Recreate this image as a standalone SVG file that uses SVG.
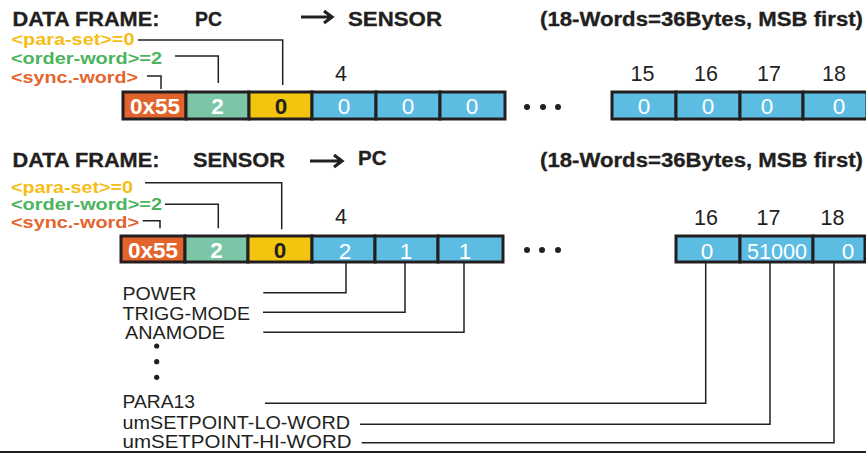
<svg xmlns="http://www.w3.org/2000/svg" width="866" height="453" viewBox="0 0 866 453">
<style>
text{font-family:"Liberation Sans",Arial,sans-serif}
.h{font-size:19.5px;font-weight:bold;fill:#231f20;stroke:#231f20;stroke-width:0.3}
.lab{font-size:17px;font-weight:bold}
.y{fill:#f6bd16}.g{fill:#4cb45c}.o{fill:#e5642d}
.num{font-size:21.5px;fill:#231f20}
.cell{stroke:#231f20;stroke-width:3}
.co{fill:#e2642c}.cg{fill:#7cc6a7}.cy{fill:#f4c50f}.cb{fill:#5cbce2}
.bt{font-size:22.5px;font-weight:bold;text-anchor:middle}
.wt{font-size:22.5px;fill:#fff;text-anchor:middle}
.pl{font-size:18px;fill:#231f20}
.ln{fill:none;stroke:#231f20;stroke-width:1.5}
.arr{fill:none;stroke:#231f20;stroke-width:3.2}
</style>

<g id="header-top">
<text class="h" x="12.5" y="26" textLength="147" lengthAdjust="spacingAndGlyphs">DATA FRAME:</text>
<text class="h" x="195" y="26" textLength="27" lengthAdjust="spacingAndGlyphs">PC</text>
<path class="arr" d="M301,17 H332 M324,11 L332,17 L324,23"/>
<text class="h" x="348" y="26" textLength="94" lengthAdjust="spacingAndGlyphs">SENSOR</text>
<text class="h" x="540" y="26" textLength="323" lengthAdjust="spacingAndGlyphs">(18-Words=36Bytes, MSB first)</text>
</g>

<g id="labels-top">
<text class="lab y" x="11.5" y="44.5" textLength="123" lengthAdjust="spacingAndGlyphs">&lt;para-set&gt;=0</text>
<text class="lab g" x="11" y="64" textLength="151" lengthAdjust="spacingAndGlyphs">&lt;order-word&gt;=2</text>
<text class="lab o" x="11" y="83" textLength="127" lengthAdjust="spacingAndGlyphs">&lt;sync.-word&gt;</text>
</g>

<g id="frame-top">
<rect class="cell co" x="123" y="92" width="63" height="27"/>
<rect class="cell cg" x="186" y="92" width="63" height="27"/>
<rect class="cell cy" x="249" y="92" width="63" height="27"/>
<rect class="cell cb" x="312" y="92" width="64" height="27"/>
<rect class="cell cb" x="376" y="92" width="64" height="27"/>
<rect class="cell cb" x="440" y="92" width="65" height="27"/>
<rect class="cell cb" x="612" y="92" width="64" height="27"/>
<rect class="cell cb" x="676" y="92" width="64" height="27"/>
<rect class="cell cb" x="740" y="92" width="63" height="27"/>
<rect class="cell cb" x="803" y="92" width="64" height="27"/>
<text class="bt" x="155" y="113.5" fill="#fff" textLength="50" lengthAdjust="spacingAndGlyphs">0x55</text>
<text class="bt" x="217.5" y="113.5" fill="#fff">2</text>
<text class="bt" x="281" y="113.5" fill="#231f20">0</text>
<text class="wt" x="344" y="114">0</text>
<text class="wt" x="408" y="114">0</text>
<text class="wt" x="472" y="114">0</text>
<text class="wt" x="644" y="114">0</text>
<text class="wt" x="708" y="114">0</text>
<text class="wt" x="767" y="114">0</text>
<text class="wt" x="839" y="114">0</text>
<circle cx="527" cy="107" r="3" fill="#231f20"/>
<circle cx="543" cy="107" r="3" fill="#231f20"/>
<circle cx="558" cy="107" r="3" fill="#231f20"/>
<text class="num" x="341" y="81" text-anchor="middle">4</text>
<text class="num" x="642.5" y="81" text-anchor="middle">15</text>
<text class="num" x="706" y="81" text-anchor="middle">16</text>
<text class="num" x="769" y="81" text-anchor="middle">17</text>
<text class="num" x="834" y="81" text-anchor="middle">18</text>
</g>

<g id="header-bottom">
<text class="h" x="12.5" y="166.5" textLength="147" lengthAdjust="spacingAndGlyphs">DATA FRAME:</text>
<text class="h" x="193" y="166.5" textLength="92" lengthAdjust="spacingAndGlyphs">SENSOR</text>
<path class="arr" d="M310,161 H342 M334,155 L342,161 L334,167"/>
<text class="h" x="358" y="165" textLength="28.5" lengthAdjust="spacingAndGlyphs">PC</text>
<text class="h" x="540" y="166.5" textLength="323" lengthAdjust="spacingAndGlyphs">(18-Words=36Bytes, MSB first)</text>
</g>

<g id="labels-bottom">
<text class="lab y" x="11" y="192.5" textLength="122" lengthAdjust="spacingAndGlyphs">&lt;para-set&gt;=0</text>
<text class="lab g" x="11" y="210" textLength="151" lengthAdjust="spacingAndGlyphs">&lt;order-word&gt;=2</text>
<text class="lab o" x="11" y="227.5" textLength="128" lengthAdjust="spacingAndGlyphs">&lt;sync.-word&gt;</text>
</g>

<g id="frame-bottom">
<rect class="cell co" x="121" y="236" width="64" height="26"/>
<rect class="cell cg" x="185" y="236" width="63" height="26"/>
<rect class="cell cy" x="248" y="236" width="64" height="26"/>
<rect class="cell cb" x="312" y="236" width="63" height="26"/>
<rect class="cell cb" x="375" y="236" width="63" height="26"/>
<rect class="cell cb" x="438" y="236" width="65" height="26"/>
<rect class="cell cb" x="676" y="236" width="64" height="26"/>
<rect class="cell cb" x="740" y="236" width="73" height="26"/>
<rect class="cell cb" x="813" y="236" width="52" height="26"/>
<text class="bt" x="153" y="257.5" fill="#fff" textLength="50" lengthAdjust="spacingAndGlyphs">0x55</text>
<text class="bt" x="216.5" y="257.5" fill="#fff">2</text>
<text class="bt" x="280" y="257.5" fill="#231f20">0</text>
<text class="wt" x="345" y="258.5">2</text>
<text class="wt" x="406" y="258.5">1</text>
<text class="wt" x="465" y="258.5">1</text>
<text class="wt" x="707" y="259">0</text>
<text class="wt" x="777" y="259" textLength="60" lengthAdjust="spacingAndGlyphs">51000</text>
<text class="wt" x="848" y="259">0</text>
<circle cx="527" cy="250" r="3" fill="#231f20"/>
<circle cx="542" cy="250" r="3" fill="#231f20"/>
<circle cx="558" cy="250" r="3" fill="#231f20"/>
<text class="num" x="341" y="223.5" text-anchor="middle">4</text>
<text class="num" x="706" y="225" text-anchor="middle">16</text>
<text class="num" x="768.5" y="225" text-anchor="middle">17</text>
<text class="num" x="832.5" y="225" text-anchor="middle">18</text>
</g>

<g id="params">
<text class="pl" x="122.5" y="300" textLength="74" lengthAdjust="spacingAndGlyphs">POWER</text>
<text class="pl" x="122.5" y="320" textLength="127.5" lengthAdjust="spacingAndGlyphs">TRIGG-MODE</text>
<text class="pl" x="125" y="339.3" textLength="100" lengthAdjust="spacingAndGlyphs">ANAMODE</text>
<circle cx="156.7" cy="346" r="2.6" fill="#231f20"/>
<circle cx="156.7" cy="361.7" r="2.6" fill="#231f20"/>
<circle cx="156.7" cy="377.3" r="2.6" fill="#231f20"/>
<text class="pl" x="122.5" y="408.3" textLength="72.5" lengthAdjust="spacingAndGlyphs">PARA13</text>
<text class="pl" x="122.5" y="429.3" textLength="227.5" lengthAdjust="spacingAndGlyphs">umSETPOINT-LO-WORD</text>
<text class="pl" x="122.5" y="448.3" textLength="229" lengthAdjust="spacingAndGlyphs">umSETPOINT-HI-WORD</text>
</g>

<g id="connectors">
<path class="ln" d="M138,40 H282.7 V85"/>
<path class="ln" d="M175,56 H218.3 V83"/>
<path class="ln" d="M147,76 H161 V89"/>
<path class="ln" d="M145,182.7 H281.7 V229.3"/>
<path class="ln" d="M165,204.3 H218.3 V228.3"/>
<path class="ln" d="M142.7,220.7 H160 V228.3"/>
<path class="ln" d="M346,262 V292.8 H263.3"/>
<path class="ln" d="M405,262 V312.3 H263"/>
<path class="ln" d="M464,262 V332.2 H263.3"/>
<path class="ln" d="M705.7,262 V403.3 H265"/>
<path class="ln" d="M770,262 V424.2 H360"/>
<path class="ln" d="M834,262 V442.8 H361.7"/>
</g>

<line x1="0" y1="452" x2="866" y2="452" stroke="#231f20" stroke-width="2"/>
</svg>
